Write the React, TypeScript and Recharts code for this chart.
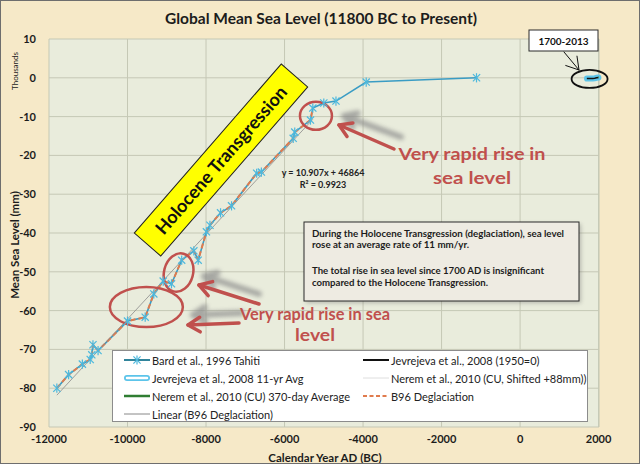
import React from "react";
import {
  ComposedChart,
  Line,
  XAxis,
  YAxis,
  CartesianGrid,
  Legend,
  ReferenceDot,
} from "recharts";

// Bard et al., 1996 Tahiti (calendar year, sea level in thousands of mm)
const bardYears = [
  -11800, -11500, -11150, -10950, -10910, -10880, -10750, -10000, -9550,
  -9330, -9090, -8880, -8620, -8310, -8200, -7990, -7900, -7630, -7350,
  -6710, -6590, -5780, -5740, -5340, -5280, -5000, -4690, -3920, -1110,
];
const bardLevel = [
  -80.0, -76.5, -73.8, -72.6, -71.4, -68.8, -70.3, -62.7, -61.7, -55.7,
  -52.4, -53.1, -47.0, -44.6, -47.0, -39.7, -38.0, -34.8, -33.0, -24.6,
  -24.3, -15.6, -14.0, -10.9, -7.8, -6.5, -6.0, -1.1, 0.0,
];
// deglaciation part of the Bard record ends here
const b96EndYear = -5280;

// linear trend of B96 deglaciation (y = 10.907x + 46864), end points
const linearYears = [-11800, -5280];
const linearLevel = [-81.8, -10.7];

// Jevrejeva et al., 2008 (1950=0)
const jevYears = [1700, 1750, 1800, 1850, 1900, 1950, 2000];
const jevLevel = [-0.19, -0.17, -0.17, -0.15, -0.1, 0.0, 0.06];
// Jevrejeva et al., 2008 11-yr avg
const jevAvgYears = [1705, 1750, 1800, 1850, 1900, 1950, 1995];
const jevAvgLevel = [-0.19, -0.17, -0.17, -0.15, -0.1, 0.0, 0.05];
// Nerem et al., 2010 (CU), shifted +88 mm
const neremYears = [1993, 1997, 2001, 2005, 2010];
const neremLevel = [0.088, 0.1, 0.11, 0.12, 0.13];
const neremAvgLevel = [0.09, 0.1, 0.11, 0.12, 0.128];

const xTicks = [-12000, -10000, -8000, -6000, -4000, -2000, 0, 2000];
const yTicks = [-90, -80, -70, -60, -50, -40, -30, -20, -10, 0, 10];

const legendLabels = [
  "Bard et al., 1996 Tahiti",
  "Jevrejeva et al., 2008 (1950=0)",
  "Jevrejeva et al., 2008 11-yr Avg",
  "Nerem et al., 2010 (CU, Shifted +88mm))",
  "Nerem et al., 2010 (CU) 370-day Average",
  "B96 Deglaciation",
  "Linear (B96 Deglaciation)",
];

const toPoints = (xs: number[], ys: number[]) =>
  xs.map((x, i) => ({ x, y: ys[i] }));

const bardData = toPoints(bardYears, bardLevel);
const b96Data = bardData.filter((d) => d.x <= b96EndYear);
const linearData = toPoints(linearYears, linearLevel);
const jevData = toPoints(jevYears, jevLevel);
const jevAvgData = toPoints(jevAvgYears, jevAvgLevel);
const neremData = toPoints(neremYears, neremLevel);
const neremAvgData = toPoints(neremYears, neremAvgLevel);

const FONT = "Lato, 'Open Sans', sans-serif";
const RED = "#c0504d";

const Star = (props: any) => {
  const { cx, cy } = props;
  if (cx == null || cy == null) return null;
  const r = 3.6;
  return (
    <g stroke="#4cb8dd" strokeWidth={1.2}>
      <line x1={cx - r} y1={cy - r} x2={cx + r} y2={cy + r} />
      <line x1={cx - r} y1={cy + r} x2={cx + r} y2={cy - r} />
      <line x1={cx} y1={cy - r - 1} x2={cx} y2={cy + r + 1} />
    </g>
  );
};

const Sample = ({ i }: { i: number }) => {
  const w = 26;
  switch (i) {
    case 0:
      return (
        <svg width={w} height={10}>
          <line x1={0} y1={5} x2={w} y2={5} stroke="#31849b" strokeWidth={2} />
          <Star cx={13} cy={5} />
        </svg>
      );
    case 1:
      return (
        <svg width={w} height={10}>
          <line x1={0} y1={5} x2={w} y2={5} stroke="#111" strokeWidth={2} />
        </svg>
      );
    case 2:
      return (
        <svg width={w} height={10}>
          <line x1={3} y1={5} x2={w - 3} y2={5} stroke="#5cc4ea" strokeWidth={6} strokeLinecap="round" />
          <line x1={3} y1={5} x2={w - 3} y2={5} stroke="#fff" strokeWidth={2.5} strokeLinecap="round" />
        </svg>
      );
    case 3:
      return (
        <svg width={w} height={10}>
          <line x1={0} y1={5} x2={w} y2={5} stroke="#dedede" strokeWidth={1} />
        </svg>
      );
    case 4:
      return (
        <svg width={w} height={10}>
          <line x1={0} y1={5} x2={w} y2={5} stroke="#2f7d32" strokeWidth={2.5} />
        </svg>
      );
    case 5:
      return (
        <svg width={w} height={10}>
          <line x1={0} y1={5} x2={w} y2={5} stroke="#e07b4d" strokeWidth={2} strokeDasharray="4 2.5" />
        </svg>
      );
    default:
      return (
        <svg width={w} height={10}>
          <line x1={0} y1={5} x2={w} y2={5} stroke="#888" strokeWidth={1} />
        </svg>
      );
  }
};

const LegendBox = () => (
  <div
    style={{
      position: "relative",
      width: 476,
      height: 72,
      background: "#fff",
      border: "1px solid #8c8c8c",
      boxSizing: "border-box",
      fontFamily: FONT,
      fontSize: 11,
      color: "#222",
      textAlign: "left",
    }}
  >
    {legendLabels.map((label, i) => {
      const col = i % 2;
      const row = Math.floor(i / 2);
      return (
        <div
          key={label}
          style={{
            position: "absolute",
            left: col ? 250 : 11,
            top: 1 + row * 18,
            height: 16,
            display: "flex",
            alignItems: "center",
            whiteSpace: "nowrap",
          }}
        >
          <Sample i={i} />
          <span style={{ marginLeft: 2 }}>{label}</span>
        </div>
      );
    })}
  </div>
);

const Arrow = ({ x1, y1, x2, y2, color, width, filter, opacity }: any) => {
  const a = Math.atan2(y2 - y1, x2 - x1);
  const L = 14;
  const s = 0.55;
  const p1 = [x2 - L * Math.cos(a - s), y2 - L * Math.sin(a - s)];
  const p2 = [x2 - L * Math.cos(a + s), y2 - L * Math.sin(a + s)];
  return (
    <g stroke={color} strokeWidth={width} fill="none" strokeLinecap="round" strokeLinejoin="round" filter={filter} opacity={opacity}>
      <line x1={x1} y1={y1} x2={x2} y2={y2} />
      <polyline points={`${p1[0]},${p1[1]} ${x2},${y2} ${p2[0]},${p2[1]}`} />
    </g>
  );
};

const ellipseShape = (rx: number, ry: number, color: string, sw: number, rot = 0) => (p: any) =>
  p.cx == null ? null : (
    <ellipse
      cx={p.cx}
      cy={p.cy}
      rx={rx}
      ry={ry}
      fill="none"
      stroke={color}
      strokeWidth={sw}
      transform={`rotate(${rot} ${p.cx} ${p.cy})`}
    />
  );

const Overlay = () => (
  <svg
    width={640}
    height={464}
    style={{ position: "absolute", left: 0, top: 0, pointerEvents: "none", fontFamily: FONT }}
  >
    <defs>
      <filter id="soft" x="-20%" y="-50%" width="140%" height="200%">
        <feGaussianBlur stdDeviation="2" />
      </filter>
    </defs>
    <text x={320} y={23} textAnchor="middle" fontSize={15.5} fontWeight={700} fill="#1c1c1c">
      Global Mean Sea Level (11800 BC to Present)
    </text>
    <text transform="translate(17,70) rotate(-90)" textAnchor="middle" fontSize={8} fill="#222">
      Thousands
    </text>
    <text transform="translate(18,244) rotate(-90)" textAnchor="middle" fontSize={11.5} fontWeight={700} fill="#1c1c1c">
      Mean Sea Level (mm)
    </text>
    <text x={324} y={461} textAnchor="middle" fontSize={11.5} fontWeight={700} fill="#1c1c1c">
      Calendar Year AD (BC)
    </text>

    {/* Holocene Transgression label */}
    <g transform="translate(220,159) rotate(-49)">
      <rect x={-112} y={-17.5} width={224} height={35} fill="#ffff00" stroke="#222" strokeWidth={1} />
      <text x={0} y={6.5} textAnchor="middle" fontSize={18} fontWeight={700} fill="#111">
        Holocene Transgression
      </text>
    </g>

    {/* trend equation */}
    <text x={322} y={175} textAnchor="middle" fontSize={9} fontWeight={700} fill="#222">
      y = 10.907x + 46864
    </text>
    <text x={322} y={187} textAnchor="middle" fontSize={9} fontWeight={700} fill="#222">
      R² = 0.9923
    </text>

    {/* arrows with gray shadows */}
    <Arrow x1={400} y1={136} x2={343} y2={115} color="#8a8a8a" width={6} filter="url(#soft)" opacity={0.7} />
    <Arrow x1={393} y1={148} x2={338} y2={124} color={RED} width={3.5} />
    <Arrow x1={258} y1={293} x2={203} y2={275} color="#8a8a8a" width={6} filter="url(#soft)" opacity={0.7} />
    <Arrow x1={258} y1={303} x2={198} y2={284} color={RED} width={3.5} />
    <Arrow x1={240} y1={312} x2={192} y2={314} color="#8a8a8a" width={6} filter="url(#soft)" opacity={0.7} />
    <Arrow x1={238} y1={322} x2={187} y2={324} color={RED} width={3.5} />

    <g fontSize={17.5} fontWeight={700} fill={RED} textAnchor="middle">
      <text x={471} y={159} textLength={147} lengthAdjust="spacingAndGlyphs">
        Very rapid rise in
      </text>
      <text x={471} y={183} textLength={78} lengthAdjust="spacingAndGlyphs">
        sea level
      </text>
      <text x={314} y={319} textLength={150} lengthAdjust="spacingAndGlyphs">
        Very rapid rise in sea
      </text>
      <text x={314} y={340} textLength={40} lengthAdjust="spacingAndGlyphs">
        level
      </text>
    </g>

    {/* info box */}
    <rect x={305} y={223} width={275} height={79} fill="#555" opacity={0.35} filter="url(#soft)" />
    <rect x={303} y={221} width={275} height={79} fill="#eeebe2" stroke="#2b2b2b" strokeWidth={1} />
    <g fontSize={10} fontWeight={700} fill="#1c1c1c">
      <text x={311} y={235.5} textLength={252} lengthAdjust="spacingAndGlyphs">
        During the Holocene Transgression (deglaciation), sea level
      </text>
      <text x={311} y={247} textLength={157} lengthAdjust="spacingAndGlyphs">
        rose at an average rate of 11 mm/yr.
      </text>
      <text x={311} y={272.5} textLength={232} lengthAdjust="spacingAndGlyphs">
        The total rise in sea level since 1700 AD is insignificant
      </text>
      <text x={311} y={284.5} textLength={176} lengthAdjust="spacingAndGlyphs">
        compared to the Holocene Transgression.
      </text>
    </g>

    {/* 1700-2013 callout */}
    <rect x={528} y={29} width={69} height={21} fill="#fff" stroke="#2b2b2b" strokeWidth={1} />
    <text x={562.5} y={43.5} textAnchor="middle" fontSize={10} fontWeight={700} fill="#111">
      1700-2013
    </text>
    <Arrow x1={563} y1={51} x2={578} y2={69} color="#111" width={1} />
  </svg>
);

export default function App() {
  return (
    <div
      style={{
        position: "absolute",
        left: 0,
        top: 0,
        width: 640,
        height: 464,
        background: "#f6e9c8",
        border: "1px solid #6e6e6e",
        boxSizing: "border-box",
        fontFamily: FONT,
        overflow: "hidden",
      }}
    >
      <div style={{ position: "absolute", left: -1, top: -1 }}>
        <ComposedChart
          width={640}
          height={464}
          margin={{ top: 39, right: 41, bottom: 7, left: 19 }}
          style={{ fontFamily: FONT }}
        >
          <CartesianGrid fill="#e9ecdc" stroke="#c5c8b5" strokeWidth={1} />
          <XAxis
            dataKey="x"
            type="number"
            domain={[-12000, 2000]}
            ticks={xTicks}
            height={30}
            axisLine={false}
            tickLine={false}
            tick={{ fill: "#1c1c1c", fontSize: 11, fontWeight: 700 }}
          />
          <YAxis
            dataKey="y"
            type="number"
            domain={[-90, 10]}
            ticks={yTicks}
            width={30}
            axisLine={false}
            tickLine={false}
            tickMargin={7}
            tick={{ fill: "#1c1c1c", fontSize: 11, fontWeight: 700 }}
          />
          <Line
            data={bardData}
            dataKey="y"
            stroke="#3a9cc4"
            strokeWidth={1.6}
            dot={<Star />}
            activeDot={false}
            isAnimationActive={false}
          />
          <Line
            data={b96Data}
            dataKey="y"
            stroke="#e07b4d"
            strokeWidth={2}
            strokeDasharray="5 3"
            dot={false}
            activeDot={false}
            isAnimationActive={false}
          />
          <Line
            data={linearData}
            dataKey="y"
            stroke="#8a8a8a"
            strokeWidth={0.8}
            dot={false}
            activeDot={false}
            isAnimationActive={false}
          />
          <Line
            data={jevAvgData}
            dataKey="y"
            stroke="#5cc4ea"
            strokeWidth={6}
            strokeLinecap="round"
            dot={false}
            activeDot={false}
            isAnimationActive={false}
          />
          <Line
            data={jevData}
            dataKey="y"
            stroke="#111"
            strokeWidth={1.5}
            dot={false}
            activeDot={false}
            isAnimationActive={false}
          />
          <Line
            data={neremData}
            dataKey="y"
            stroke="#dedede"
            strokeWidth={1}
            dot={false}
            activeDot={false}
            isAnimationActive={false}
          />
          <Line
            data={neremAvgData}
            dataKey="y"
            stroke="#2f7d32"
            strokeWidth={1.5}
            dot={false}
            activeDot={false}
            isAnimationActive={false}
          />
          <ReferenceDot x={-5200} y={-9.8} shape={ellipseShape(16, 14, RED, 2.5)} ifOverflow="visible" />
          <ReferenceDot x={-8700} y={-50.2} shape={ellipseShape(14.5, 19.5, RED, 2.5, 15)} ifOverflow="visible" />
          <ReferenceDot x={-9520} y={-59.1} shape={ellipseShape(36.5, 20, RED, 2.5)} ifOverflow="visible" />
          <ReferenceDot x={1770} y={-0.3} shape={ellipseShape(18, 9, "#111", 1.8)} ifOverflow="visible" />
          <Legend
            layout="horizontal"
            verticalAlign="middle"
            align="center"
            content={() => <LegendBox />}
            wrapperStyle={{ left: 112, top: 350, width: 476, height: 72 }}
          />
        </ComposedChart>
      </div>
      <Overlay />
    </div>
  );
}
